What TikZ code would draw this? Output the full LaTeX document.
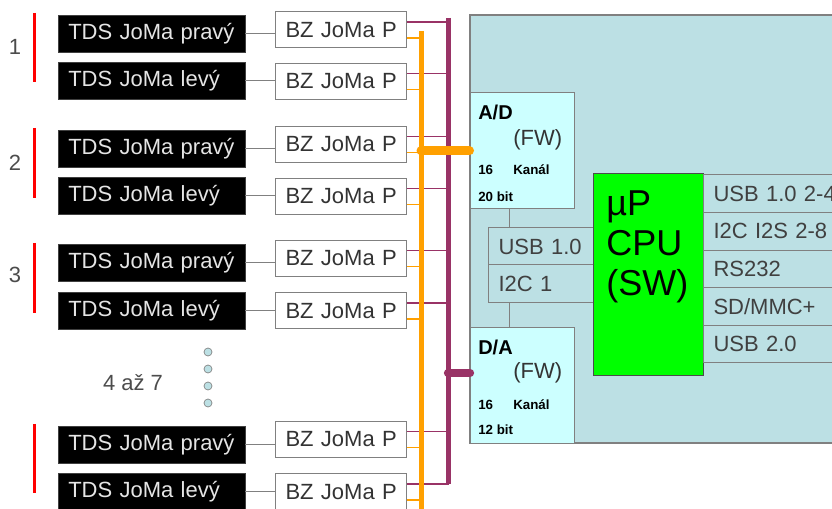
\documentclass[tikz,border=0pt]{standalone}
\usepackage{fontspec}
\setmainfont{Liberation Sans}

\definecolor{tyrkys}{HTML}{BCE0E4}
\definecolor{azur}{HTML}{CCFFFF}
\definecolor{fialova}{HTML}{993366}
\definecolor{oranzova}{HTML}{FFA000}
\definecolor{zelena}{HTML}{00FF00}
\definecolor{sedy}{HTML}{808080}

\newcommand\pismo{\fontsize{16.5}{19}\selectfont}

\tikzset{
  tds/.style={anchor=west, fill=black, draw=black!75, text=white!90!black, font=\pismo,
    text width=125pt, inner xsep=7.5pt, inner ysep=0pt, minimum height=27.75pt},
  bz/.style={anchor=west, fill=white, draw=sedy, line width=0.75pt, text=black!80, font=\pismo,
    text width=83.25pt, inner xsep=7.5pt, inner ysep=0pt, minimum height=27pt},
  fw/.style={fill=azur, draw=sedy, line width=0.75pt, minimum width=78pt, minimum height=87pt},
  fwnazev/.style={anchor=west, inner sep=0pt, font=\fontsize{15}{17}\selectfont\bfseries},
  fwtext/.style={anchor=west, inner sep=0pt, text=black!80, font=\pismo},
  fwmaly/.style={anchor=west, inner sep=0pt, font=\fontsize{10}{12}\selectfont\bfseries},
  rozhrani/.style={anchor=west, fill=tyrkys, draw=sedy, line width=0.75pt, text=black!75, font=\pismo,
    text width=150pt, inner xsep=7.5pt, inner ysep=0pt, minimum height=28.2pt},
  cpu/.style={fill=zelena, draw=black!70, line width=0.75pt, minimum width=82.5pt, minimum height=151.5pt},
  cislo/.style={text=black!70, font=\pismo, inner sep=0pt},
  tecka/.style={circle, draw=sedy, fill=tyrkys, line width=0.5pt, inner sep=0pt, minimum size=6pt},
  spoj/.style={sedy, line width=0.75pt},
  cervena/.style={red, line width=2.25pt}
}

\begin{document}
\begin{tikzpicture}[x=0.75pt, y=-0.75pt]
  \useasboundingbox (0,0) rectangle (832,509);
  \clip (0,0) rectangle (832,509);

  % Deska procesoru
  \fill[tyrkys] (470,15) rectangle (860,443);
  \draw[sedy, line width=1.1pt] (860,15) -- (470,15) -- (470,443) -- (860,443);

  % Skupiny 1 az 3 a skupina 4 az 7
  \draw[cervena] (34,13) -- (34,82);
  \draw[cervena] (34,128) -- (34,198);
  \draw[cervena] (34,243) -- (34,313);
  \draw[cervena] (34,424) -- (34,493);
  \node[cislo] (s1) at (15,47) {1};
  \node[cislo] (s2) at (15,163) {2};
  \node[cislo] (s3) at (15,275) {3};
  \node[cislo] (s4) at (133,383) {4 až 7};
  \foreach \k in {1,...,4}
    \node[tecka] (d\k) at (208,{352+17*(\k-1)}) {};

  % Snimace a zesilovace
  \foreach \i/\y/\s/\b in {1/33.5/pravý/30, 2/80.5/levý/81.5, 3/148.5/pravý/144.5,
      4/196/levý/196.5, 5/262.5/pravý/258.5, 6/310.5/levý/311, 7/444.5/pravý/439.5,
      8/491.5/levý/492}
    {
      \node[tds] (t\i) at (58,\y) {TDS JoMa \s};
      \node[bz] (b\i) at (275,\b) {\mbox{BZ JoMa P}};
      \draw[spoj] (t\i.east) -- (t\i.east -| b\i.west);
    }

  % Sbernice
  \coordinate (obh) at (421,31);
  \coordinate (obd) at (421,520);
  \coordinate (pbh) at (448,18);
  \coordinate (pbd) at (448,484);
  \foreach \i in {1,...,8}
    \draw[fialova, line width=1.1pt] ([yshift=6pt]b\i.east) -- ++(42,0);
  \foreach \i in {1,...,8}
    \draw[oranzova, line width=1.1pt] ([yshift=-6pt]b\i.east) -- ++(15,0);
  \draw[oranzova, line width=3.75pt] (obh) -- (obd);
  \draw[fialova, line width=3.75pt] (pbh) -- (pbd);

  % Prevodniky A/D a D/A
  \node[fw] (ad) at (522,151) {};
  \node[fw] (da) at (522,386) {};
  \node[fwnazev] (adn) at (478,112) {A/D};
  \node[fwtext] (adfw) at (513,140) {(FW)};
  \node[fwmaly] (adk) at (478,170) {16};
  \node[fwmaly] (adkan) at (513,170) {Kanál};
  \node[fwmaly] (adb) at (478,197) {20 bit};
  \node[fwnazev] (dan) at (478,347) {D/A};
  \node[fwtext] (dafw) at (513,373) {(FW)};
  \node[fwmaly] (dak) at (478,405) {16};
  \node[fwmaly] (dakan) at (513,405) {Kanál};
  \node[fwmaly] (dab) at (478,430) {12 bit};

  % Pripojeni sbernic
  \coordinate (dain) at (470,373);
  \draw[oranzova, line width=6.75pt, line cap=round] (ad.west -| obh) -- (ad.west);
  \draw[fialova, line width=6.25pt, line cap=round] (dain -| pbh) -- (dain);

  % USB 1.0 a I2C 1
  \node[rozhrani, text width=63.75pt] (usb) at (488,246.5) {USB 1.0};
  \node[rozhrani, text width=63.75pt] (i2c) at (488,283.5) {I2C 1};
  \coordinate (lk) at (509,0);
  \draw[spoj] (ad.south -| lk) -- (usb.north -| lk);
  \draw[spoj] (i2c.south -| lk) -- (da.north -| lk);

  % Procesor
  \node[cpu] (cpu) at (648,275) {};
  \node[anchor=west, align=left, inner sep=0pt, font=\fontsize{27}{30}\selectfont] (cpun) at (606,247) {µP\\CPU\\(SW)};

  % Rozhrani
  \foreach \n/\t in {1/USB 1.0 2-4, 2/I2C I2S 2-8, 3/RS232, 4/{SD/MMC+}, 5/USB 2.0}
    \node[rozhrani] (r\n) at (703,{193.8+37.6*(\n-1)}) {\t};
\end{tikzpicture}
\end{document}
